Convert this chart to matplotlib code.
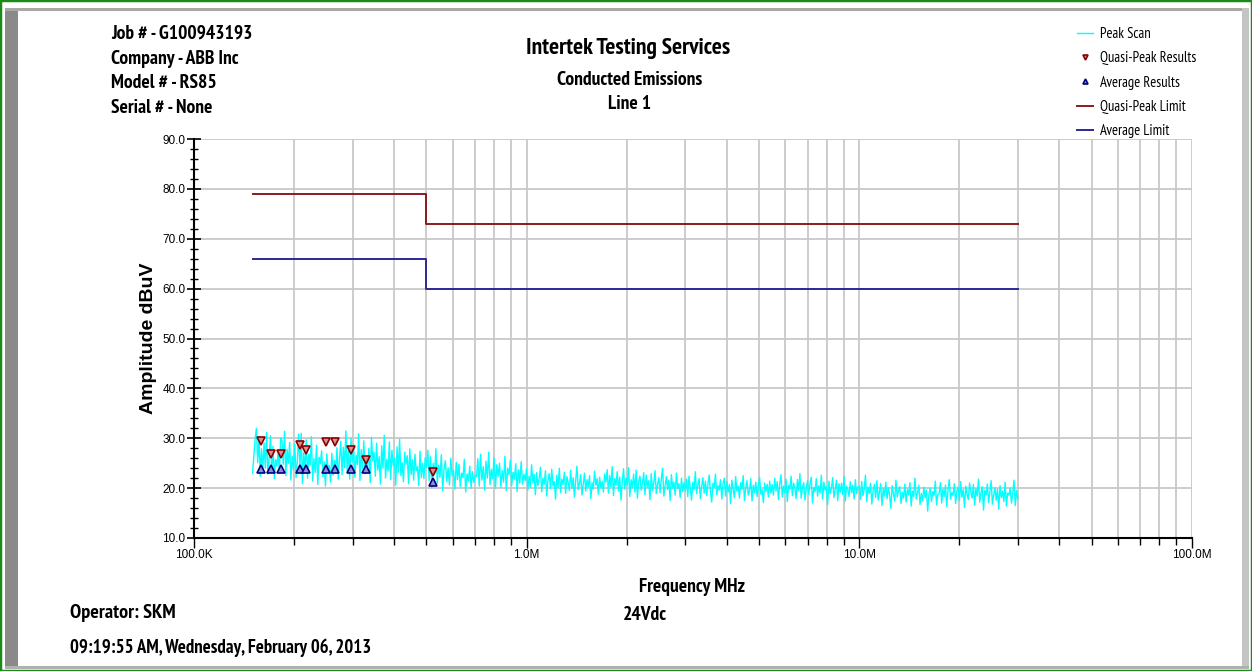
import numpy as np
import matplotlib.pyplot as plt
from matplotlib.patches import Rectangle
from matplotlib.ticker import FixedLocator, NullFormatter, MultipleLocator

# === Data ===
# limit lines (MHz, dBuV)
qp_limit_f = [0.15, 0.5, 0.5, 30.0]
qp_limit_v = [79.0, 79.0, 73.0, 73.0]
avg_limit_f = [0.15, 0.5, 0.5, 30.0]
avg_limit_v = [66.0, 66.0, 60.0, 60.0]

# measured results
result_f = [0.159, 0.170, 0.183, 0.208, 0.217, 0.249, 0.266, 0.296, 0.329, 0.522]
qp_results = [29.5, 26.9, 26.9, 28.7, 27.6, 29.3, 29.3, 27.7, 25.7, 23.3]
avg_results = [23.8, 23.8, 23.8, 23.8, 23.8, 23.8, 23.8, 23.8, 23.8, 21.3]

# peak scan, read band by band (150k-500k, 500k-1M, 1M-3M, 3M-10M, 10M-30M)
scan_edges = [0.15, 0.5, 1.0, 3.0, 10.0, 30.0]
scan_1 = [23.0, 26.5, 29.8, 32.0, 25.1, 30.4, 22.4, 27.9, 23.6, 29.1, 24.0, 31.2, 22.8, 26.0,
          30.5, 23.2, 28.4, 21.9, 25.7, 24.4, 27.3, 23.0, 30.1, 29.6, 24.8, 31.4, 22.5, 27.8,
          25.0, 29.2, 21.6, 26.4, 23.7, 28.9, 22.1, 25.4, 30.8, 24.3, 31.0, 20.9, 27.1, 23.5,
          29.7, 22.0, 26.8, 24.6, 30.3, 21.4, 25.9, 23.1, 28.6, 20.7, 26.2, 24.9, 27.5, 22.3,
          25.3, 20.4, 26.9, 23.8, 24.5, 21.2, 27.0, 22.6, 25.6, 23.4, 28.1, 21.8,
          25.8, 29.4, 22.7, 28.2, 24.1, 31.5, 23.3, 27.4, 21.8, 30.0, 25.2, 28.8, 22.2, 26.6,
          24.7, 30.9, 21.5, 27.7, 23.9, 29.5, 22.9, 26.1, 24.2, 28.0, 21.1, 30.2, 25.5, 27.2,
          22.4, 29.0, 23.6, 26.3, 20.8, 28.5, 24.0, 30.6, 22.0, 25.8, 23.4, 29.3, 21.7, 27.6,
          24.5, 26.0, 20.6, 28.3, 23.2, 29.8, 22.5, 25.1, 21.3, 27.2, 24.8, 26.5, 20.9, 27.9,
          22.7, 25.7, 21.6, 26.8, 23.5, 24.3, 20.5, 27.4, 22.1, 25.0, 21.9, 26.1]
scan_2 = [24.2, 27.6, 21.5, 26.3, 20.1, 25.0, 22.8, 27.9, 21.0, 24.6, 22.2, 26.7, 19.4, 23.9,
          25.5, 21.3, 24.1, 20.6, 26.0, 22.5, 23.6, 19.8, 25.2, 21.7, 24.8, 20.3, 23.0, 22.1,
          25.8, 19.2, 22.9, 21.4, 24.4, 20.0, 23.3, 21.1, 22.6,
          22.3, 25.9, 20.4, 26.8, 21.6, 24.3, 19.6, 25.4, 22.0, 27.2, 20.7, 23.8, 21.9, 26.1,
          19.9, 24.7, 22.4, 25.0, 20.2, 23.5, 21.2, 26.4, 19.5, 24.0, 22.7, 25.6, 20.5, 23.2,
          21.8, 24.9, 19.3, 23.7, 21.0, 25.3, 20.8, 22.8, 21.5]
scan_3 = [23.9, 19.6, 22.4, 20.2, 24.7, 21.0, 22.8, 18.7, 23.1, 20.5, 21.9, 24.2, 19.3, 22.0,
          20.8, 23.5, 18.4, 21.6, 22.9, 19.9, 23.8, 20.4, 21.3, 17.8, 22.6, 20.1, 24.0, 19.1,
          21.8, 20.7, 23.2, 18.9, 22.3, 21.2, 19.5, 23.6, 20.0, 22.1, 18.2, 21.5, 24.4, 19.7,
          21.0, 22.7, 18.6, 20.9, 23.0, 19.4, 21.7, 20.3, 22.5, 17.9, 21.1, 19.8, 23.4, 20.6,
          21.9, 18.8, 22.2, 20.0, 21.4, 19.2, 22.8,
          21.2, 23.7, 19.0, 22.5, 20.3, 24.3, 18.5, 21.9, 20.6, 23.3, 19.4, 22.2, 17.6, 21.4,
          23.9, 19.8, 22.0, 20.5, 24.1, 18.3, 21.7, 20.1, 22.8, 19.2, 23.6, 18.0, 21.3, 22.4,
          19.6, 20.8, 23.1, 18.7, 22.6, 20.2, 21.5, 17.7, 22.9, 19.5, 21.0, 23.5, 18.9, 20.7,
          22.1, 19.1, 21.8, 24.0, 18.4, 20.4, 22.3, 19.7, 21.6, 17.5, 22.7, 20.0, 21.2, 18.6,
          23.0, 19.9, 20.9, 18.1, 22.0, 19.3, 21.1]
scan_4 = [19.5, 21.8, 18.3, 22.4, 20.1, 17.6, 21.2, 19.7, 23.3, 18.9, 20.6, 21.9, 17.9, 20.3,
          22.1, 19.0, 21.4, 18.5, 20.8, 22.6, 19.3, 17.2, 21.0, 20.2, 22.8, 18.7, 20.5, 19.6,
          21.7, 17.8, 20.9, 22.0, 18.4, 21.3, 19.2, 20.7, 16.9, 21.6, 19.9, 18.1, 22.3, 19.4,
          20.4, 18.0, 21.1, 19.8, 22.5, 17.5, 20.0, 21.5, 18.6, 19.5, 21.9, 17.4, 20.6, 19.1,
          21.2, 18.3, 20.3, 22.2, 18.8, 19.7, 17.1, 21.0, 19.3, 20.8, 18.2, 21.4, 19.0,
          20.7, 18.6, 22.0, 19.4, 21.3, 17.7, 20.9, 22.7, 18.2, 20.4, 19.1, 21.8, 17.3, 20.6,
          19.8, 22.4, 18.5, 21.0, 20.0, 17.9, 21.7, 19.5, 22.9, 18.0, 20.2, 21.1, 17.6, 19.9,
          21.5, 18.8, 20.8, 22.2, 17.0, 20.1, 19.3, 21.9, 18.4, 20.5, 19.0, 22.6, 17.8, 21.2,
          19.6, 20.3, 16.7, 21.4, 18.9, 20.0, 22.1, 18.1, 19.7, 21.6, 17.5, 20.9, 19.2, 21.0,
          18.7, 22.3, 17.4, 20.4, 19.8, 18.3, 21.3, 19.1, 20.6, 17.8, 21.7, 18.9, 20.2]
scan_5 = [20.4, 17.7, 21.3, 18.5, 19.8, 22.6, 17.3, 20.2, 18.9, 21.0, 16.8, 19.6, 20.7, 18.1,
          21.5, 17.6, 19.3, 20.9, 16.5, 19.9, 18.4, 21.2, 17.9, 20.1, 18.7, 15.9, 20.5, 19.0,
          17.4, 21.6, 18.2, 19.5, 20.3, 16.9, 19.2, 18.0, 20.8, 17.2, 19.7, 18.6, 21.1, 16.4,
          19.4, 18.3, 22.0, 17.8, 19.1, 20.6, 16.7, 18.9, 17.5, 20.2, 18.1, 19.6, 15.4, 18.8,
          20.0, 17.3, 19.3, 18.5, 21.4, 16.6, 18.7,
          18.9, 21.1, 17.0, 19.8, 18.3, 20.6, 16.3, 19.5, 21.7, 17.8, 19.1, 18.5, 20.9, 16.9,
          19.4, 20.2, 17.5, 21.3, 18.2, 19.7, 16.1, 20.4, 18.8, 17.7, 21.0, 19.2, 18.0, 20.7,
          16.6, 19.9, 18.4, 21.8, 17.2, 19.0, 20.3, 15.6, 19.6, 18.6, 20.8, 17.1, 19.3, 21.5,
          16.8, 18.7, 20.1, 17.6, 19.8, 15.8, 20.5, 18.1, 19.4, 17.3, 21.2, 16.4, 19.0, 18.6,
          20.0, 17.0, 18.9, 21.6, 16.5, 19.5, 17.9]
scan_bands = [scan_1, scan_2, scan_3, scan_4, scan_5]

scan_f = []
scan_v = []
for i, band in enumerate(scan_bands):
    # sweep points, log spaced inside each band
    f = np.geomspace(scan_edges[i], scan_edges[i + 1], len(band), endpoint=(i == len(scan_bands) - 1))
    scan_f.extend(f)
    scan_v.extend(band)

x_major = [0.1, 1.0, 10.0, 100.0]
x_labels = ["100.0K", "1.0M", "10.0M", "100.0M"]
y_major = [10, 20, 30, 40, 50, 60, 70, 80, 90]

narrow = ["PT Sans Narrow", "Roboto Condensed", "DejaVu Sans"]
plain = ["Liberation Sans", "DejaVu Sans"]

# === Figure ===
fig = plt.figure(figsize=(12.52, 6.71), dpi=100, facecolor="white")
W, H = 1252, 671

# window frame
fig.patches.append(Rectangle((0, 0), 1, 1, transform=fig.transFigure, fill=False,
                             edgecolor="#1a8a1a", linewidth=2.5, zorder=10))
fig.patches.append(Rectangle((5 / W, 4 / H), 13 / W, (H - 12) / H, transform=fig.transFigure,
                             facecolor="#8a8a8a", edgecolor="none", zorder=5))
fig.patches.append(Rectangle((5 / W, (H - 11) / H), (W - 12) / W, 3 / H, transform=fig.transFigure,
                             facecolor="#a8a8a8", edgecolor="none", zorder=5))
fig.patches.append(Rectangle((1242 / W, 4 / H), 7 / W, (H - 12) / H, transform=fig.transFigure,
                             facecolor="#c4c4c4", edgecolor="none", zorder=5))
fig.patches.append(Rectangle((5 / W, 2 / H), (W - 8) / W, 3 / H, transform=fig.transFigure,
                             facecolor="#b0b0b0", edgecolor="none", zorder=5))

ax = fig.add_axes([194 / W, (H - 538) / H, 997.7 / W, 399 / H])
ax.set_xscale("log")
ax.set_xlim(0.1, 100.0)
ax.set_ylim(10, 90)

# grid
minor_x = [m * d for d in [0.1, 1.0, 10.0] for m in range(2, 10)]
ax.xaxis.set_major_locator(FixedLocator(x_major))
ax.xaxis.set_minor_locator(FixedLocator(minor_x))
ax.xaxis.set_minor_formatter(NullFormatter())
ax.set_xticks(x_major, x_labels)
ax.yaxis.set_major_locator(FixedLocator(y_major))
ax.yaxis.set_minor_locator(MultipleLocator(2))
ax.set_yticklabels(["%.1f" % v for v in y_major])
for lab in ax.get_xticklabels() + ax.get_yticklabels():
    lab.set_family(plain)
ax.grid(True, which="both", axis="x", color="#c8c8c8", linewidth=1.3)
ax.grid(True, which="major", axis="y", color="#c8c8c8", linewidth=1.3)
ax.set_axisbelow(True)

for s in ["top", "right"]:
    ax.spines[s].set_visible(False)
ax.spines["left"].set_linewidth(1.5)
ax.spines["bottom"].set_linewidth(1.5)
ax.tick_params(axis="x", which="major", direction="out", length=7, width=1, labelsize=8.5, pad=1)
ax.tick_params(axis="x", which="minor", direction="out", length=5, width=1)
ax.tick_params(axis="y", which="major", direction="inout", length=10, width=1.2, labelsize=8.5, pad=1)
ax.tick_params(axis="y", which="minor", direction="inout", length=6, width=1)

# plot data
ax.plot(scan_f, scan_v, color="#00ffff", linewidth=1.0, label="Peak Scan", zorder=3)
ax.plot(qp_limit_f, qp_limit_v, color="#8b1c1c", linewidth=1.4, label="Quasi-Peak Limit", zorder=4)
ax.plot(avg_limit_f, avg_limit_v, color="#2a2a95", linewidth=1.4, label="Average Limit", zorder=4)
ax.plot(result_f, qp_results, linestyle="none", marker="v", markersize=6, mfc="#d89090",
        mec="#8b0000", mew=1.2, label="Quasi-Peak Results", zorder=5)
ax.plot(result_f, avg_results, linestyle="none", marker="^", markersize=6, mfc="#9090d0",
        mec="#000080", mew=1.2, label="Average Results", zorder=5)

# axis labels
ax.set_ylabel("Amplitude dBuV", fontsize=14, fontweight="bold", family=plain, labelpad=4)
fig.text(692 / W, 1 - 587 / H, "Frequency MHz", ha="center", va="center", fontsize=14,
         fontweight="bold", family=narrow)

# header texts
for i, t in enumerate(["Job # - G100943193", "Company - ABB Inc", "Model # - RS85", "Serial # - None"]):
    fig.text(111 / W, 1 - (34 + i * 24.7) / H, t, ha="left", va="center", fontsize=14,
             fontweight="bold", family=narrow)
fig.text(628 / W, 1 - 48.5 / H, "Intertek Testing Services", ha="center", va="center", fontsize=17,
         fontweight="bold", family=narrow)
fig.text(630 / W, 1 - 80 / H, "Conducted Emissions", ha="center", va="center", fontsize=14,
         fontweight="bold", family=narrow)
fig.text(630 / W, 1 - 104 / H, "Line 1", ha="center", va="center", fontsize=14,
         fontweight="bold", family=narrow)

# footer texts
fig.text(70 / W, 1 - 613 / H, "Operator: SKM", ha="left", va="center", fontsize=14.5,
         fontweight="bold", family=narrow)
fig.text(645 / W, 1 - 615 / H, "24Vdc", ha="center", va="center", fontsize=14,
         fontweight="bold", family=narrow)
fig.text(70 / W, 1 - 648 / H, "09:19:55 AM, Wednesday, February 06, 2013", ha="left", va="center",
         fontsize=13.5, fontweight="bold", family=narrow)

# legend
handles, labels = ax.get_legend_handles_labels()
order = ["Peak Scan", "Quasi-Peak Results", "Average Results", "Quasi-Peak Limit", "Average Limit"]
hmap = dict(zip(labels, handles))
fig.legend([hmap[k] for k in order], order, loc="upper left", bbox_to_anchor=(1064 / W, 1 - 14 / H),
           frameon=False, handlelength=1.1, handletextpad=0.5, labelspacing=0.7, markerscale=0.6,
           borderpad=0.4, prop={"family": narrow, "size": 10.5})

fig.savefig("out.png", dpi=100, facecolor="white")
